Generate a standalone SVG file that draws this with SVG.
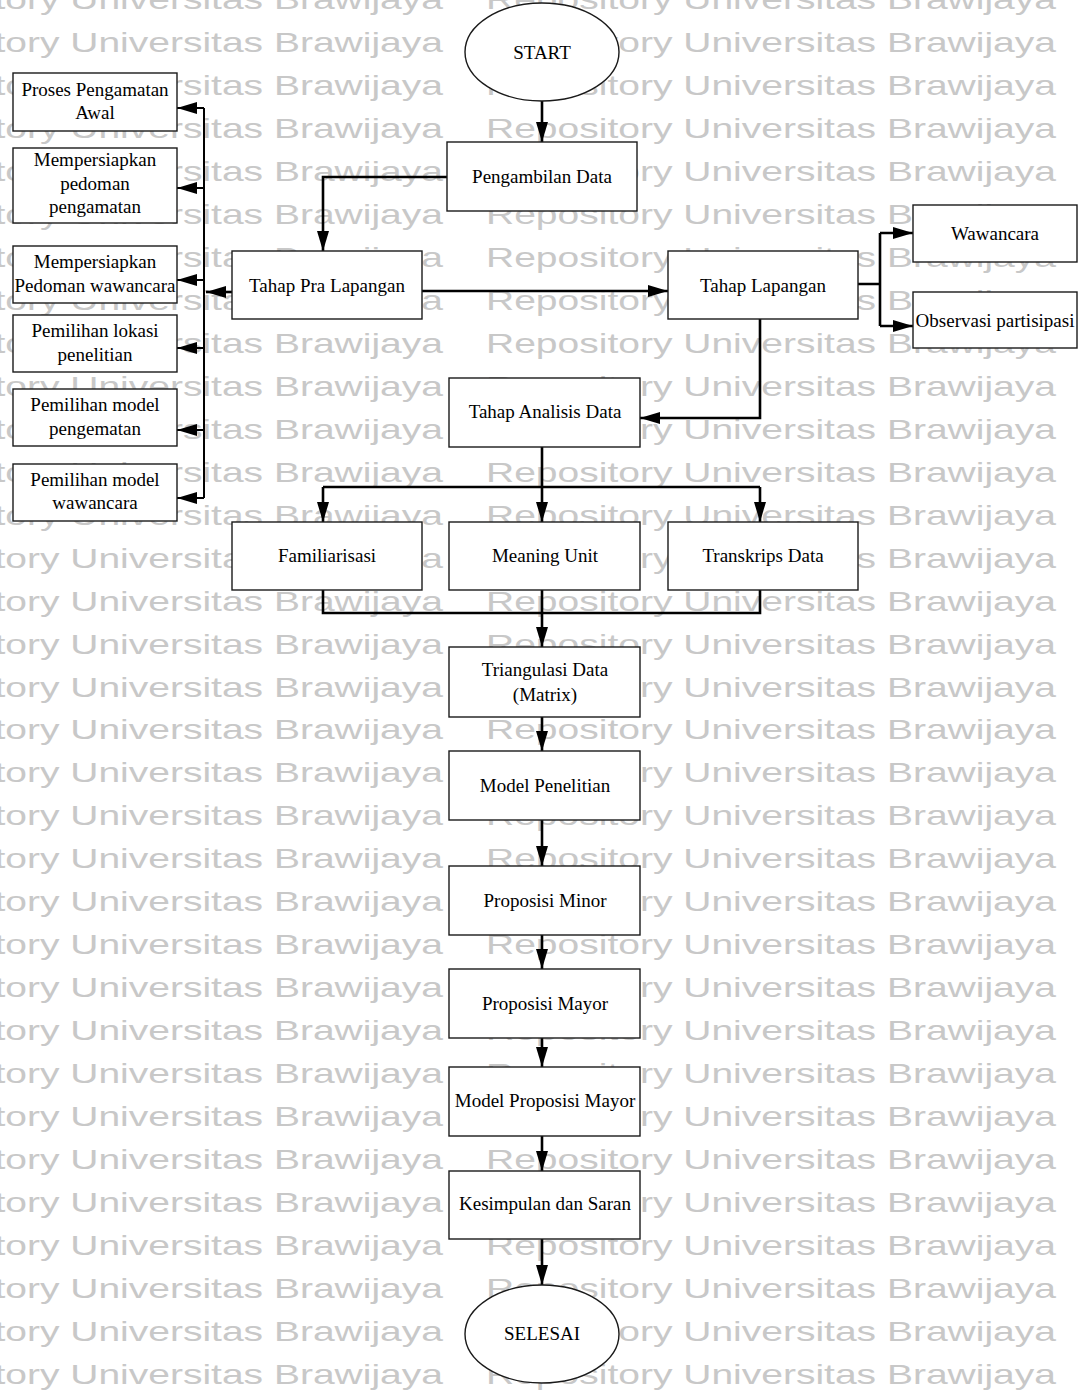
<svg xmlns="http://www.w3.org/2000/svg" width="1081" height="1393" viewBox="0 0 1081 1393">
<style>
.wm{font-family:"Liberation Sans",Arial,sans-serif;font-size:28px;fill:#c8c8c8}
.box{fill:#fff;stroke:#1a1a1a;stroke-width:1.4}
.lbl{font-family:"Liberation Serif","Times New Roman",serif;font-size:19px;fill:#000;text-anchor:middle}
.con{fill:none;stroke:#000;stroke-width:2.6}
.bus{fill:none;stroke:#000;stroke-width:2}
.arr{marker-end:url(#ah)}
</style>
<defs>
<marker id="ah" markerUnits="userSpaceOnUse" markerWidth="20" markerHeight="12" refX="20" refY="6" orient="auto">
<path d="M0,0 L20,6 L0,12 z" fill="#000"/>
</marker>
</defs>
<rect width="1081" height="1393" fill="#fff"/>
<g id="watermark" class="wm">
<text x="-127" y="9" textLength="570" lengthAdjust="spacingAndGlyphs">Repository Universitas Brawijaya</text><text x="486" y="9" textLength="570" lengthAdjust="spacingAndGlyphs">Repository Universitas Brawijaya</text>
<text x="-127" y="52" textLength="570" lengthAdjust="spacingAndGlyphs">Repository Universitas Brawijaya</text><text x="486" y="52" textLength="570" lengthAdjust="spacingAndGlyphs">Repository Universitas Brawijaya</text>
<text x="-127" y="95" textLength="570" lengthAdjust="spacingAndGlyphs">Repository Universitas Brawijaya</text><text x="486" y="95" textLength="570" lengthAdjust="spacingAndGlyphs">Repository Universitas Brawijaya</text>
<text x="-127" y="138" textLength="570" lengthAdjust="spacingAndGlyphs">Repository Universitas Brawijaya</text><text x="486" y="138" textLength="570" lengthAdjust="spacingAndGlyphs">Repository Universitas Brawijaya</text>
<text x="-127" y="181" textLength="570" lengthAdjust="spacingAndGlyphs">Repository Universitas Brawijaya</text><text x="486" y="181" textLength="570" lengthAdjust="spacingAndGlyphs">Repository Universitas Brawijaya</text>
<text x="-127" y="224" textLength="570" lengthAdjust="spacingAndGlyphs">Repository Universitas Brawijaya</text><text x="486" y="224" textLength="570" lengthAdjust="spacingAndGlyphs">Repository Universitas Brawijaya</text>
<text x="-127" y="267" textLength="570" lengthAdjust="spacingAndGlyphs">Repository Universitas Brawijaya</text><text x="486" y="267" textLength="570" lengthAdjust="spacingAndGlyphs">Repository Universitas Brawijaya</text>
<text x="-127" y="310" textLength="570" lengthAdjust="spacingAndGlyphs">Repository Universitas Brawijaya</text><text x="486" y="310" textLength="570" lengthAdjust="spacingAndGlyphs">Repository Universitas Brawijaya</text>
<text x="-127" y="353" textLength="570" lengthAdjust="spacingAndGlyphs">Repository Universitas Brawijaya</text><text x="486" y="353" textLength="570" lengthAdjust="spacingAndGlyphs">Repository Universitas Brawijaya</text>
<text x="-127" y="396" textLength="570" lengthAdjust="spacingAndGlyphs">Repository Universitas Brawijaya</text><text x="486" y="396" textLength="570" lengthAdjust="spacingAndGlyphs">Repository Universitas Brawijaya</text>
<text x="-127" y="439" textLength="570" lengthAdjust="spacingAndGlyphs">Repository Universitas Brawijaya</text><text x="486" y="439" textLength="570" lengthAdjust="spacingAndGlyphs">Repository Universitas Brawijaya</text>
<text x="-127" y="482" textLength="570" lengthAdjust="spacingAndGlyphs">Repository Universitas Brawijaya</text><text x="486" y="482" textLength="570" lengthAdjust="spacingAndGlyphs">Repository Universitas Brawijaya</text>
<text x="-127" y="525" textLength="570" lengthAdjust="spacingAndGlyphs">Repository Universitas Brawijaya</text><text x="486" y="525" textLength="570" lengthAdjust="spacingAndGlyphs">Repository Universitas Brawijaya</text>
<text x="-127" y="568" textLength="570" lengthAdjust="spacingAndGlyphs">Repository Universitas Brawijaya</text><text x="486" y="568" textLength="570" lengthAdjust="spacingAndGlyphs">Repository Universitas Brawijaya</text>
<text x="-127" y="611" textLength="570" lengthAdjust="spacingAndGlyphs">Repository Universitas Brawijaya</text><text x="486" y="611" textLength="570" lengthAdjust="spacingAndGlyphs">Repository Universitas Brawijaya</text>
<text x="-127" y="654" textLength="570" lengthAdjust="spacingAndGlyphs">Repository Universitas Brawijaya</text><text x="486" y="654" textLength="570" lengthAdjust="spacingAndGlyphs">Repository Universitas Brawijaya</text>
<text x="-127" y="697" textLength="570" lengthAdjust="spacingAndGlyphs">Repository Universitas Brawijaya</text><text x="486" y="697" textLength="570" lengthAdjust="spacingAndGlyphs">Repository Universitas Brawijaya</text>
<text x="-127" y="739" textLength="570" lengthAdjust="spacingAndGlyphs">Repository Universitas Brawijaya</text><text x="486" y="739" textLength="570" lengthAdjust="spacingAndGlyphs">Repository Universitas Brawijaya</text>
<text x="-127" y="782" textLength="570" lengthAdjust="spacingAndGlyphs">Repository Universitas Brawijaya</text><text x="486" y="782" textLength="570" lengthAdjust="spacingAndGlyphs">Repository Universitas Brawijaya</text>
<text x="-127" y="825" textLength="570" lengthAdjust="spacingAndGlyphs">Repository Universitas Brawijaya</text><text x="486" y="825" textLength="570" lengthAdjust="spacingAndGlyphs">Repository Universitas Brawijaya</text>
<text x="-127" y="868" textLength="570" lengthAdjust="spacingAndGlyphs">Repository Universitas Brawijaya</text><text x="486" y="868" textLength="570" lengthAdjust="spacingAndGlyphs">Repository Universitas Brawijaya</text>
<text x="-127" y="911" textLength="570" lengthAdjust="spacingAndGlyphs">Repository Universitas Brawijaya</text><text x="486" y="911" textLength="570" lengthAdjust="spacingAndGlyphs">Repository Universitas Brawijaya</text>
<text x="-127" y="954" textLength="570" lengthAdjust="spacingAndGlyphs">Repository Universitas Brawijaya</text><text x="486" y="954" textLength="570" lengthAdjust="spacingAndGlyphs">Repository Universitas Brawijaya</text>
<text x="-127" y="997" textLength="570" lengthAdjust="spacingAndGlyphs">Repository Universitas Brawijaya</text><text x="486" y="997" textLength="570" lengthAdjust="spacingAndGlyphs">Repository Universitas Brawijaya</text>
<text x="-127" y="1040" textLength="570" lengthAdjust="spacingAndGlyphs">Repository Universitas Brawijaya</text><text x="486" y="1040" textLength="570" lengthAdjust="spacingAndGlyphs">Repository Universitas Brawijaya</text>
<text x="-127" y="1083" textLength="570" lengthAdjust="spacingAndGlyphs">Repository Universitas Brawijaya</text><text x="486" y="1083" textLength="570" lengthAdjust="spacingAndGlyphs">Repository Universitas Brawijaya</text>
<text x="-127" y="1126" textLength="570" lengthAdjust="spacingAndGlyphs">Repository Universitas Brawijaya</text><text x="486" y="1126" textLength="570" lengthAdjust="spacingAndGlyphs">Repository Universitas Brawijaya</text>
<text x="-127" y="1169" textLength="570" lengthAdjust="spacingAndGlyphs">Repository Universitas Brawijaya</text><text x="486" y="1169" textLength="570" lengthAdjust="spacingAndGlyphs">Repository Universitas Brawijaya</text>
<text x="-127" y="1212" textLength="570" lengthAdjust="spacingAndGlyphs">Repository Universitas Brawijaya</text><text x="486" y="1212" textLength="570" lengthAdjust="spacingAndGlyphs">Repository Universitas Brawijaya</text>
<text x="-127" y="1255" textLength="570" lengthAdjust="spacingAndGlyphs">Repository Universitas Brawijaya</text><text x="486" y="1255" textLength="570" lengthAdjust="spacingAndGlyphs">Repository Universitas Brawijaya</text>
<text x="-127" y="1298" textLength="570" lengthAdjust="spacingAndGlyphs">Repository Universitas Brawijaya</text><text x="486" y="1298" textLength="570" lengthAdjust="spacingAndGlyphs">Repository Universitas Brawijaya</text>
<text x="-127" y="1341" textLength="570" lengthAdjust="spacingAndGlyphs">Repository Universitas Brawijaya</text><text x="486" y="1341" textLength="570" lengthAdjust="spacingAndGlyphs">Repository Universitas Brawijaya</text>
<text x="-127" y="1384" textLength="570" lengthAdjust="spacingAndGlyphs">Repository Universitas Brawijaya</text><text x="486" y="1384" textLength="570" lengthAdjust="spacingAndGlyphs">Repository Universitas Brawijaya</text>
</g>
<g id="connectors">
<path class="con arr" d="M542,101 V142"/>
<path class="con arr" d="M447,177 H323 V251"/>
<path class="con arr" d="M422,291 H668"/>
<path class="con arr" d="M232,292 H206"/>
<path class="bus" d="M204,108 V498"/>
<path class="bus arr" d="M204,108 H177"/>
<path class="bus arr" d="M204,188 H177"/>
<path class="bus arr" d="M204,280 H177"/>
<path class="bus arr" d="M204,348 H177"/>
<path class="bus arr" d="M204,430 H177"/>
<path class="bus arr" d="M204,498 H177"/>
<path class="con" d="M858,284 H880 M880,233 V326"/>
<path class="con arr" d="M880,233 H913"/>
<path class="con arr" d="M880,326 H913"/>
<path class="con arr" d="M760,319 V418 H640"/>
<path class="con arr" d="M542,447 V522"/>
<path class="con" d="M323,487 H760"/>
<path class="con arr" d="M323,487 V522"/>
<path class="con arr" d="M760,487 V522"/>
<path class="con" d="M323,590 V613 H760 V590"/>
<path class="con arr" d="M542,590 V647"/>
<path class="con arr" d="M542,717 V751"/>
<path class="con arr" d="M542,820 V866"/>
<path class="con arr" d="M542,935 V969"/>
<path class="con arr" d="M542,1038 V1067"/>
<path class="con arr" d="M542,1136 V1171"/>
<path class="con arr" d="M542,1239 V1285"/>
</g>
<g id="start"><ellipse class="box" cx="542" cy="52" rx="77" ry="49"/><text class="lbl" x="542" y="59">START</text></g>
<g id="pengambilan-data"><rect class="box" x="447" y="142" width="190" height="69"/><text class="lbl" x="542" y="183">Pengambilan Data</text></g>
<g id="tahap-pra-lapangan"><rect class="box" x="232" y="251" width="190" height="68"/><text class="lbl" x="327" y="292">Tahap Pra Lapangan</text></g>
<g id="tahap-lapangan"><rect class="box" x="668" y="251" width="190" height="68"/><text class="lbl" x="763" y="292">Tahap Lapangan</text></g>
<g id="wawancara"><rect class="box" x="913" y="205" width="164" height="57"/><text class="lbl" x="995" y="240">Wawancara</text></g>
<g id="observasi"><rect class="box" x="913" y="292" width="164" height="56"/><text class="lbl" x="995" y="327">Observasi partisipasi</text></g>
<g id="proses-pengamatan"><rect class="box" x="13" y="73" width="164" height="58"/><text class="lbl" x="95" y="96">Proses Pengamatan</text><text class="lbl" x="95" y="119">Awal</text></g>
<g id="pedoman-pengamatan"><rect class="box" x="13" y="148" width="164" height="75"/><text class="lbl" x="95" y="166">Mempersiapkan</text><text class="lbl" x="95" y="190">pedoman</text><text class="lbl" x="95" y="213">pengamatan</text></g>
<g id="pedoman-wawancara"><rect class="box" x="13" y="246" width="164" height="57"/><text class="lbl" x="95" y="268">Mempersiapkan</text><text class="lbl" x="95" y="292">Pedoman wawancara</text></g>
<g id="lokasi"><rect class="box" x="13" y="315" width="164" height="57"/><text class="lbl" x="95" y="337">Pemilihan lokasi</text><text class="lbl" x="95" y="361">penelitian</text></g>
<g id="model-pengematan"><rect class="box" x="13" y="389" width="164" height="57"/><text class="lbl" x="95" y="411">Pemilihan model</text><text class="lbl" x="95" y="435">pengematan</text></g>
<g id="model-wawancara"><rect class="box" x="13" y="464" width="164" height="57"/><text class="lbl" x="95" y="486">Pemilihan model</text><text class="lbl" x="95" y="509">wawancara</text></g>
<g id="tahap-analisis"><rect class="box" x="449" y="378" width="191" height="69"/><text class="lbl" x="545" y="418">Tahap Analisis Data</text></g>
<g id="familiarisasi"><rect class="box" x="232" y="522" width="190" height="68"/><text class="lbl" x="327" y="562">Familiarisasi</text></g>
<g id="meaning-unit"><rect class="box" x="449" y="522" width="191" height="68"/><text class="lbl" x="545" y="562">Meaning Unit</text></g>
<g id="transkrips"><rect class="box" x="668" y="522" width="190" height="68"/><text class="lbl" x="763" y="562">Transkrips Data</text></g>
<g id="triangulasi"><rect class="box" x="449" y="647" width="191" height="70"/><text class="lbl" x="545" y="676">Triangulasi Data</text><text class="lbl" x="545" y="701">(Matrix)</text></g>
<g id="model-penelitian"><rect class="box" x="449" y="751" width="191" height="69"/><text class="lbl" x="545" y="792">Model Penelitian</text></g>
<g id="proposisi-minor"><rect class="box" x="449" y="866" width="191" height="69"/><text class="lbl" x="545" y="907">Proposisi Minor</text></g>
<g id="proposisi-mayor"><rect class="box" x="449" y="969" width="191" height="69"/><text class="lbl" x="545" y="1010">Proposisi Mayor</text></g>
<g id="model-proposisi-mayor"><rect class="box" x="449" y="1067" width="191" height="69"/><text class="lbl" x="545" y="1107">Model Proposisi Mayor</text></g>
<g id="kesimpulan"><rect class="box" x="449" y="1171" width="191" height="68"/><text class="lbl" x="545" y="1210">Kesimpulan dan Saran</text></g>
<g id="selesai"><ellipse class="box" cx="542" cy="1334" rx="77" ry="49"/><text class="lbl" x="542" y="1340">SELESAI</text></g>
</svg>
